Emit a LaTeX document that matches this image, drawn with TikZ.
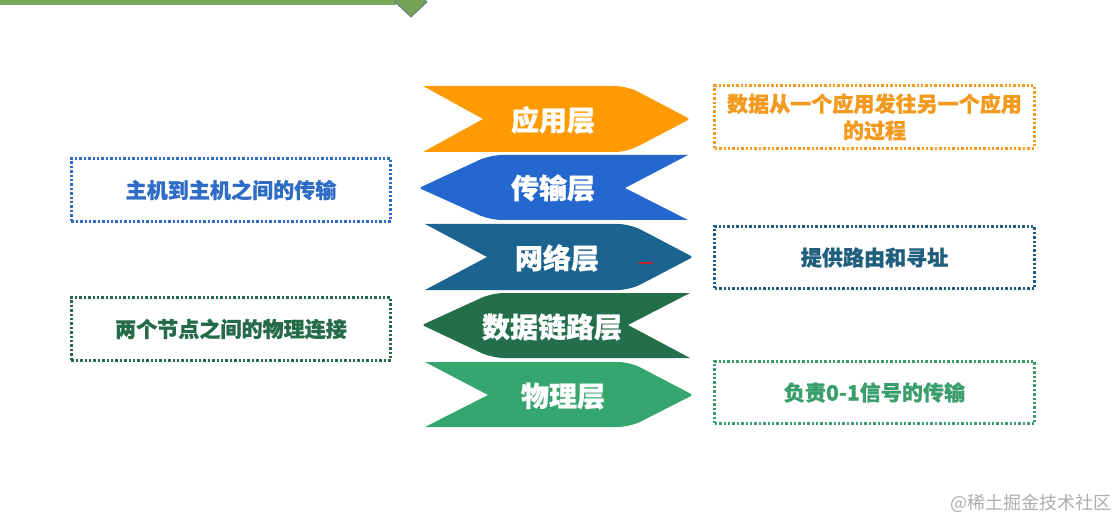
\documentclass[tikz,border=0pt]{standalone}
\usepackage{fontspec}
\newfontfamily\cjk{Noto Sans CJK SC}
\newfontfamily\cjkB{Noto Sans CJK SC}[BoldFeatures={FakeBold=0.7}]
\definecolor{barG}{HTML}{7AA85B}
\definecolor{diaG}{HTML}{76A255}
\definecolor{diaB}{HTML}{5E7390}
\definecolor{cOrange}{HTML}{FE9A02}
\definecolor{cBlue}{HTML}{2468CF}
\definecolor{cNet}{HTML}{1C6490}
\definecolor{cLink}{HTML}{236F4B}
\definecolor{cPhy}{HTML}{35A66E}
\definecolor{tOrange}{HTML}{F39A1E}
\definecolor{tBlue}{HTML}{2F6CC6}
\definecolor{tNet}{HTML}{1F5F7D}
\definecolor{tLink}{HTML}{256B4A}
\definecolor{tPhy}{HTML}{3A9E6C}
\definecolor{cRed}{HTML}{C0282D}
\tikzset{
  layertext/.style={text=white,font=\cjkB\bfseries\fontsize{21}{24}\selectfont,inner sep=0pt},
  dbox/.style={draw,line width=2.1pt,dash pattern=on 1.8pt off 1.5pt,minimum width=239.5pt,minimum height=47pt,
    align=center,font=\cjkB\bfseries\fontsize{15.8}{20}\selectfont,inner sep=0pt},
}
\begin{document}
\begin{tikzpicture}[x=0.75pt,y=-0.75pt]
\useasboundingbox (0,0) rectangle (1116,520);
% top bar and diamond
\fill[barG] (0,0) rectangle (396,5);
\filldraw[fill=diaG,draw=diaB,line width=0.6pt] (395,2) -- (411,-13) -- (427,2) -- (411,17) -- cycle;
% arrows
\fill[cOrange] (423,86) [rounded corners=9] -- (627,86) [rounded corners=2] -- (690,119) [rounded corners=9] -- (627,152) [sharp corners] -- (423,152) -- (483,119) -- cycle;
\fill[cBlue] (688,155) [rounded corners=9] -- (490,155) [rounded corners=2] -- (419,188) [rounded corners=9] -- (490,220) [sharp corners] -- (688,220) -- (625,188) -- cycle;
\fill[cNet] (425,224) [rounded corners=9] -- (630,224) [rounded corners=2] -- (693,257) [rounded corners=9] -- (630,290) [sharp corners] -- (425,290) -- (487,257) -- cycle;
\fill[cLink] (690,293) [rounded corners=9] -- (492,293) [rounded corners=2] -- (422,325) [rounded corners=9] -- (492,358) [sharp corners] -- (690,358) -- (628,325) -- cycle;
\fill[cPhy] (425,362) [rounded corners=9] -- (630,362) [rounded corners=2] -- (693,395) [rounded corners=9] -- (630,427) [sharp corners] -- (425,427) -- (488,395) -- cycle;
\draw[cRed,line width=1.5pt] (639,263) -- (653,263);
% layer labels
\node[layertext] (app) at (553,120) {应用层};
\node[layertext] (trans) at (553,188) {传输层};
\node[layertext] (net) at (557,258) {网络层};
\node[layertext] (link) at (552,327) {数据链路层};
\node[layertext] (phy) at (563,396) {物理层};
% description boxes
\node[dbox,draw=tOrange,text=tOrange] (dapp) at (874.5,117) {数据从一个应用发往另一个应用\\的过程};
\node[dbox,draw=tBlue,text=tBlue] (dtrans) at (231,190) {主机到主机之间的传输};
\node[dbox,draw=tNet,text=tNet] (dnet) at (874.5,257.5) {提供路由和寻址};
\node[dbox,draw=tLink,text=tLink] (dlink) at (231,329) {两个节点之间的物理连接};
\node[dbox,draw=tPhy,text=tPhy] (dphy) at (874.5,392.5) {负责0-1信号的传输};
% watermark
\node[text=black!32,font=\cjk\fontsize{13.5}{15}\selectfont,inner sep=0pt] (wm) at (1031,503) {@稀土掘金技术社区};
\end{tikzpicture}
\end{document}
